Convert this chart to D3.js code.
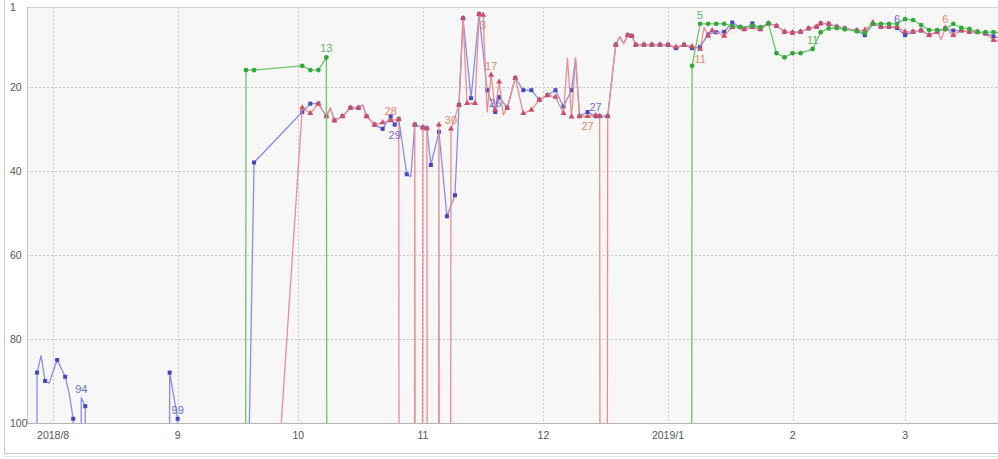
<!DOCTYPE html>
<html><head><meta charset="utf-8">
<script src="https://cdnjs.cloudflare.com/ajax/libs/d3/7.8.5/d3.min.js"></script>
<style>
html,body{margin:0;padding:0;background:#fff;}
svg{display:block;font-family:"Liberation Sans",Arial,sans-serif;}
</style></head>
<body><svg id="chart" width="998" height="459"></svg>
<script>
const OFF = 1000; // unranked (below the chart)

const blueSeries = [
 ["2018-07-27",OFF],["2018-07-28",88],["2018-07-29",84],["2018-07-30",90],["2018-07-31",90.5],
 ["2018-08-02",85],["2018-08-04",89],["2018-08-05",93],["2018-08-06",99],["2018-08-07",OFF],
 ["2018-08-08",94],["2018-08-09",96],["2018-08-10",OFF],["2018-08-29",OFF],["2018-08-30",88],
 ["2018-09-01",99],["2018-09-02",OFF],["2018-09-20",38],["2018-10-02",26],["2018-10-04",24],
 ["2018-10-06",24],["2018-10-08",27],["2018-10-09",25],["2018-10-10",28],["2018-10-12",27],
 ["2018-10-14",25],["2018-10-16",25],["2018-10-17",24.3],["2018-10-18",27],["2018-10-20",29],
 ["2018-10-22",30],["2018-10-24",27],["2018-10-25",29],["2018-10-26",27.7],["2018-10-28",40.8],
 ["2018-10-29",41.4],["2018-10-30",29],["2018-11-01",29.7],["2018-11-02",29.9],["2018-11-03",38.6],
 ["2018-11-05",30.7],["2018-11-07",50.8],["2018-11-09",45.8],["2018-11-10",24.3],["2018-11-11",3.7],
 ["2018-11-13",22.7],["2018-11-15",2.7],["2018-11-17",20.8],["2018-11-19",26],["2018-11-20",22.4],
 ["2018-11-22",25],["2018-11-24",17.9],["2018-11-26",20.8],["2018-11-28",20.8],["2018-11-30",23.1],
 ["2018-12-02",22],["2018-12-04",20.8],["2018-12-06",24.7],["2018-12-08",20.8],["2018-12-09",13.2],
 ["2018-12-10",27],["2018-12-12",26],["2018-12-14",27],["2018-12-15",27],["2018-12-17",27],
 ["2018-12-19",10],["2018-12-20",8.1],["2018-12-21",9.7],["2018-12-22",7.7],["2018-12-23",7.9],
 ["2018-12-24",10],["2018-12-26",10],["2018-12-28",10],["2018-12-30",10],["2019-01-01",10],
 ["2019-01-03",10.8],["2019-01-05",10],["2019-01-07",10.8],["2019-01-09",10.5],["2019-01-11",7.5],
 ["2019-01-13",7],["2019-01-15",6.9],["2019-01-17",4.7],["2019-01-19",5.8],["2019-01-20",6.3],
 ["2019-01-22",4.9],["2019-01-24",6.3],["2019-01-26",4.9],["2019-01-28",5.5],["2019-01-30",6.9],
 ["2019-02-01",7.1],["2019-02-03",6.9],["2019-02-05",6.1],["2019-02-07",5.7],["2019-02-08",4.9],
 ["2019-02-10",5],["2019-02-12",5.7],["2019-02-14",6.1],["2019-02-17",6.6],["2019-02-19",7.7],
 ["2019-02-21",5],["2019-02-23",5.7],["2019-02-25",5.7],["2019-02-27",6],["2019-03-01",7.7],
 ["2019-03-03",6.9],["2019-03-05",6.6],["2019-03-07",7.7],["2019-03-09",6.9],["2019-03-11",6.1],
 ["2019-03-13",6.6],["2019-03-15",6.6],["2019-03-17",6.9],["2019-03-19",6.9],["2019-03-21",7.3],
 ["2019-03-23",8],["2019-03-25",8.5]
];

const redSeries = [
 ["2018-07-26",OFF],["2018-10-02",25],["2018-10-04",26.3],["2018-10-06",24],["2018-10-08",27],
 ["2018-10-09",25],["2018-10-10",28],["2018-10-12",27],["2018-10-14",25],["2018-10-16",25],
 ["2018-10-17",24.3],["2018-10-18",27],["2018-10-20",29],["2018-10-22",28.5],["2018-10-24",28],
 ["2018-10-26",27.7],["2018-10-27",OFF],["2018-10-29",OFF],["2018-10-30",29],["2018-10-31",OFF],
 ["2018-11-01",29.7],["2018-11-02",29.9],["2018-11-03",OFF],["2018-11-04",OFF],["2018-11-05",29],
 ["2018-11-06",OFF],["2018-11-07",OFF],["2018-11-08",30],["2018-11-10",24.3],["2018-11-11",3.7],
 ["2018-11-12",23.9],["2018-11-14",23.9],["2018-11-15",2.7],["2018-11-16",2.9],["2018-11-17",26],
 ["2018-11-18",17.2],["2018-11-19",25.5],["2018-11-20",18.8],["2018-11-21",26.7],["2018-11-22",25],
 ["2018-11-24",17.9],["2018-11-26",26.3],["2018-11-28",25.5],["2018-11-30",23.1],["2018-12-02",22],
 ["2018-12-04",22.4],["2018-12-06",26.3],["2018-12-07",13.2],["2018-12-08",27.1],["2018-12-09",13.2],
 ["2018-12-10",27],["2018-12-12",27],["2018-12-14",26.8],["2018-12-15",27],["2018-12-16",OFF],
 ["2018-12-17",27],["2018-12-19",10],["2018-12-20",8.1],["2018-12-21",9.7],["2018-12-22",7.7],
 ["2018-12-23",7.9],["2018-12-24",10],["2018-12-26",10],["2018-12-28",10],["2018-12-30",10],
 ["2019-01-01",10],["2019-01-03",10.5],["2019-01-05",10],["2019-01-07",10.4],["2019-01-09",11],
 ["2019-01-10",5.8],["2019-01-11",7.9],["2019-01-12",6.6],["2019-01-15",7.9],["2019-01-17",5.8],
 ["2019-01-19",5.8],["2019-01-20",6.3],["2019-01-22",5.8],["2019-01-24",6.3],["2019-01-26",4.9],
 ["2019-01-28",5.5],["2019-01-30",6.9],["2019-02-01",7.1],["2019-02-03",6.9],["2019-02-05",6.1],
 ["2019-02-07",5.7],["2019-02-08",4.9],["2019-02-10",5],["2019-02-12",5.7],["2019-02-14",6.1],
 ["2019-02-17",6.6],["2019-02-19",6.5],["2019-02-21",4.7],["2019-02-23",5.7],["2019-02-25",5.7],
 ["2019-02-27",5.7],["2019-03-01",6.9],["2019-03-03",6.9],["2019-03-05",6.6],["2019-03-07",7.7],
 ["2019-03-09",6.9],["2019-03-10",8.7],["2019-03-11",6],["2019-03-13",7.7],["2019-03-15",6.6],
 ["2019-03-17",6.9],["2019-03-19",6.9],["2019-03-21",7.3],["2019-03-23",8.9],["2019-03-25",9.3]
];

const greenSeries = [
 ["2018-09-17",OFF],["2018-09-18",16],["2018-09-20",16],["2018-10-02",15],["2018-10-04",16],
 ["2018-10-06",16],["2018-10-08",13],["2018-10-09",OFF],["2019-01-06",OFF],["2019-01-07",15],
 ["2019-01-09",5],["2019-01-11",5],["2019-01-13",5],["2019-01-15",5],["2019-01-17",5.5],
 ["2019-01-19",5.8],["2019-01-22",5.5],["2019-01-24",5.8],["2019-01-26",4.9],["2019-01-28",12],
 ["2019-01-30",13],["2019-02-01",12],["2019-02-03",12],["2019-02-06",11],["2019-02-08",7],
 ["2019-02-10",6.1],["2019-02-12",6],["2019-02-14",6.3],["2019-02-17",6.8],["2019-02-19",7.2],
 ["2019-02-21",5],["2019-02-23",5],["2019-02-25",5],["2019-02-27",5],["2019-03-01",3.9],
 ["2019-03-03",4.1],["2019-03-05",5.3],["2019-03-07",6.5],["2019-03-09",6.5],["2019-03-11",6.3],
 ["2019-03-13",5],["2019-03-15",6],["2019-03-17",6.2],["2019-03-19",7],["2019-03-21",7],
 ["2019-03-23",7],["2019-03-25",7.2]
];

// vertices drawn without a marker in the original
const unmarkedPoints = [
 ["blue","2018-07-29"],["blue","2018-07-31"],["blue","2018-08-05"],["blue","2018-08-08"],
 ["blue","2018-10-09"],["red","2018-10-09"],["blue","2018-10-17"],["red","2018-10-17"],
 ["blue","2018-10-29"],["red","2018-11-17"],["red","2018-11-21"],["red","2018-12-07"],
 ["red","2018-12-09"],["blue","2018-12-09"],["blue","2018-12-20"],["red","2018-12-20"],
 ["blue","2018-12-21"],["red","2018-12-21"],["red","2019-01-10"],["red","2019-03-10"]
];

const yTicks = [1, 20, 40, 60, 80, 100];
const xTickDates = ["2018-08-01","2018-09-01","2018-10-01","2018-11-01","2018-12-01","2019-01-01","2019-02-01","2019-03-01"];
const xTickLabels = ["2018/8","9","10","11","12","2019/1","2","3"];

// point labels: series, date of the point, text, side
const pointLabels = [
 ["blue","2018-08-08","94","above"],["blue","2018-09-01","99","above"],
 ["green","2018-10-08","13","above"],["red","2018-10-24","28","above"],
 ["blue","2018-10-25","29","below"],["red","2018-11-08","30","above"],
 ["red","2018-11-16","3","below"],["red","2018-11-18","17","above"],
 ["blue","2018-11-19","26","above"],["blue","2018-12-14","27","above"],
 ["red","2018-12-12","27","below"],["green","2019-01-09","5","above"],
 ["red","2019-01-09","11","below"],["green","2019-02-06","11","above"],
 ["blue","2019-02-27","6","above"],["red","2019-03-11","6","above"]
];

const styles = {
  blue:  {line:"#8c8ce6", mark:"#4646c4", text:"#6e6ed8", shape:"square"},
  red:   {line:"#e98e92", mark:"#cc4f67", text:"#e8866e", shape:"triangle"},
  green: {line:"#6cc46c", mark:"#35a83a", text:"#5fb95f", shape:"circle"}
};

const parse = d3.timeParse("%Y-%m-%d");
const svg = d3.select("#chart");
const W = 998, H = 459;
const P = {left:27, top:7, right:1000, bottom:423};

const x = d3.scaleTime()
  .domain([new Date(2018,6,25,12), new Date(2019,2,24,3)])
  .range([P.left, 998]);
const y = d3.scaleLinear().domain([1,100]).range([P.top, P.bottom]);

// outer panel
svg.append("rect").attr("x",0).attr("y",0).attr("width",W).attr("height",H).attr("fill","#fff");
svg.append("path").attr("d",`M4.5,0V453.5H${W}`).attr("fill","none").attr("stroke","#c8c8c8");
svg.append("path").attr("d",`M4.5,456.5H${W}`).attr("fill","none").attr("stroke","#e2e2e2");

// plot background
svg.append("rect").attr("x",P.left+0.5).attr("y",P.top+0.5)
  .attr("width",P.right-P.left).attr("height",P.bottom-P.top)
  .attr("fill","#f7f7f7").attr("stroke","#d4d4d4");

svg.append("clipPath").attr("id","clip").append("rect")
  .attr("x",P.left+1).attr("y",P.top-6).attr("width",P.right-P.left).attr("height",P.bottom-P.top+6);

// grid
const grid = svg.append("g");
grid.selectAll("line.h").data(yTicks.filter(v=>v>1 && v<100)).enter().append("line")
  .attr("x1",P.left).attr("x2",P.right)
  .attr("y1",d=>Math.round(y(d))+0.5).attr("y2",d=>Math.round(y(d))+0.5)
  .attr("stroke","#c9c9c9").attr("stroke-dasharray","2,2");
grid.selectAll("line.v").data(xTickDates).enter().append("line")
  .attr("x1",d=>Math.round(x(parse(d)))+0.5).attr("x2",d=>Math.round(x(parse(d)))+0.5)
  .attr("y1",P.top).attr("y2",P.bottom)
  .attr("stroke","#c9c9c9").attr("stroke-dasharray","2,2");

// axes baseline
svg.append("line").attr("x1",P.left).attr("x2",P.right).attr("y1",P.bottom+0.5).attr("y2",P.bottom+0.5).attr("stroke","#b5b5b5");
svg.append("line").attr("x1",P.left+0.5).attr("x2",P.left+0.5).attr("y1",P.top).attr("y2",P.bottom).attr("stroke","#c4c4c4");

// y tick labels
svg.append("g").selectAll("text").data(yTicks).enter().append("text")
  .attr("x",10).attr("y",d=>y(d)+4)
  .attr("font-size","10.5px").attr("fill","#555").text(d=>d);

// x tick labels
svg.append("g").selectAll("text").data(xTickDates).enter().append("text")
  .attr("x",d=>x(parse(d))).attr("y",439)
  .attr("text-anchor","middle").attr("font-size","10.5px").attr("fill","#555")
  .text((d,i)=>xTickLabels[i]);

const unmarked = new Set(unmarkedPoints.map(d=>d[0]+"|"+d[1]));
const build = (k, arr) => arr.map(d=>({date:parse(d[0]), v:d[1], mark:!unmarked.has(k+"|"+d[0])}));
const all = {
  blue: build("blue", blueSeries),
  red: build("red", redSeries),
  green: build("green", greenSeries)
};

const plot = svg.append("g").attr("clip-path","url(#clip)");
const line = d3.line().x(d=>x(d.date)).y(d=>y(d.v));

["blue","red","green"].forEach(k=>{
  const st = styles[k];
  const g = plot.append("g");
  g.append("path").datum(all[k]).attr("d",line)
    .attr("fill","none").attr("stroke",st.line).attr("stroke-width",1.3).attr("stroke-linejoin","round");
  const pts = all[k].filter(d=>d.v<=100 && d.mark);
  if (st.shape==="square") {
    g.selectAll("rect").data(pts).enter().append("rect")
      .attr("x",d=>x(d.date)-2).attr("y",d=>y(d.v)-2).attr("width",4).attr("height",4).attr("fill",st.mark);
  } else if (st.shape==="triangle") {
    const sym = d3.symbol().type(d3.symbolTriangle).size(16);
    g.selectAll("path.m").data(pts).enter().append("path")
      .attr("d",sym).attr("transform",d=>`translate(${x(d.date)},${y(d.v)})`).attr("fill",st.mark);
  } else {
    g.selectAll("circle").data(pts).enter().append("circle")
      .attr("cx",d=>x(d.date)).attr("cy",d=>y(d.v)).attr("r",2.4).attr("fill",st.mark);
  }
});

// point labels
const lab = svg.append("g");
pointLabels.forEach(([k,ds,t,side])=>{
  const p = all[k].find(d=>+d.date===+parse(ds));
  if(!p) return;
  lab.append("text").attr("x",x(p.date)).attr("y",y(p.v)+(side==="above"?-5:14))
    .attr("text-anchor","middle").attr("font-size","11px").attr("fill",styles[k].text).text(t);
});
</script></body></html>
